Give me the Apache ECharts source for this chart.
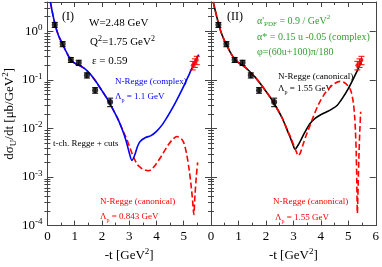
<!DOCTYPE html>
<html><head><meta charset="utf-8">
<script src="https://cdn.jsdelivr.net/npm/echarts@6/dist/echarts.min.js"></script>
<style>html,body{margin:0;padding:0;background:#fff}#c{width:382px;height:267px}</style>
</head><body><div id="c"></div>
<script>
// ---------- data ----------
const xTickValues = [0, 1, 2, 3, 4, 5, 6];
const yMinorTicks = [];
[1e-4, 1e-3, 1e-2, 1e-1, 1].forEach(d => { for (let k = 2; k <= 9; k++) { if (d * k <= 4) yMinorTicks.push(+(d * k).toPrecision(3)); } });

// measured data (black) – same in both panels
const dataT = [0.27, 0.56, 0.86, 1.15, 1.45, 1.75, 2.3];
const dataY = [1.36, 0.545, 0.258, 0.225, 0.124, 0.061, 0.035];
const dataErr = [0.16, 0.065, 0.03, 0.028, 0.015, 0.008, 0.007];
// red data at backward angles
const redT = [5.33, 5.41, 5.48];
const redY = [0.20, 0.225, 0.255];
const redErr = [0.04, 0.045, 0.05];

// Panel I: N-Regge (complex), Lambda_p = 1.1 GeV (blue)
const blueT = [0.11,0.2,0.3,0.4,0.5,0.6,0.7,0.8,0.9,1.0,1.1,1.2,1.3,1.4,1.5,1.6,1.8,2.0,2.2,2.4,2.6,2.8,2.9,3.0,3.1,3.2,3.3,3.4,3.6,3.8,4.0,4.2,4.4,4.6,4.8,5.0,5.2,5.4,5.55];
const blueY = [4.0,2.2,1.25,0.84,0.63,0.48,0.37,0.29,0.245,0.22,0.205,0.195,0.18,0.165,0.145,0.126,0.089,0.060,0.040,0.025,0.015,0.0079,0.0052,0.0032,0.0022,0.0028,0.0042,0.0054,0.0065,0.0071,0.0087,0.0117,0.0174,0.027,0.044,0.074,0.13,0.23,0.33];
// Panel I: N-Regge (canonical), Lambda_p = 0.843 GeV (red dashed)
const red1T = [0.11,0.2,0.3,0.4,0.5,0.6,0.7,0.8,0.9,1.0,1.1,1.2,1.3,1.4,1.5,1.6,1.8,2.0,2.2,2.4,2.6,2.8,2.9,3.0,3.1,3.2,3.3,3.4,3.5,3.6,3.7,3.8,3.9,4.0,4.2,4.4,4.6,4.75,4.9,5.0,5.1,5.2,5.28,5.33,5.37,5.41,5.46,5.51];
const red1Y = [4.0,2.2,1.25,0.84,0.63,0.48,0.37,0.29,0.245,0.22,0.205,0.195,0.18,0.165,0.145,0.126,0.089,0.060,0.040,0.025,0.015,0.0082,0.0062,0.0044,0.0031,0.0023,0.0018,0.0016,0.00145,0.00138,0.00135,0.0014,0.0016,0.0019,0.0028,0.0043,0.006,0.0068,0.0062,0.0051,0.0031,0.0014,0.0006,0.0003,0.00017,0.0004,0.001,0.002];
// Panel II: N-Regge (canonical), Lambda_p = 1.55 GeV (black)
const blackT = [0.08,0.2,0.3,0.4,0.5,0.6,0.7,0.8,0.9,1.0,1.1,1.2,1.3,1.4,1.5,1.6,1.8,2.0,2.2,2.4,2.6,2.8,2.9,3.0,3.05,3.1,3.2,3.3,3.4,3.6,3.8,4.0,4.2,4.4,4.6,4.8,5.0,5.2,5.4,5.5];
const blackY = [4.0,2.1,1.25,0.85,0.63,0.48,0.37,0.30,0.255,0.225,0.205,0.19,0.17,0.15,0.13,0.115,0.083,0.058,0.040,0.026,0.016,0.0085,0.0062,0.0044,0.0038,0.0039,0.0048,0.0062,0.0080,0.0125,0.0163,0.0192,0.0218,0.025,0.030,0.043,0.066,0.11,0.19,0.26];
// Panel II: N-Regge (canonical), Lambda_p = 1.55 GeV (red dashed)
const red2T = [0.08,0.2,0.3,0.4,0.5,0.6,0.7,0.8,0.9,1.0,1.1,1.2,1.3,1.4,1.5,1.6,1.8,2.0,2.2,2.4,2.6,2.8,2.9,3.0,3.1,3.18,3.25,3.35,3.45,3.55,3.7,3.9,4.1,4.3,4.5,4.7,4.85,5.0,5.1,5.18,5.23,5.26,5.29,5.31,5.33,5.36,5.39,5.42,5.45];
const red2Y = [4.0,2.1,1.25,0.85,0.63,0.48,0.37,0.30,0.255,0.225,0.205,0.19,0.17,0.15,0.13,0.115,0.083,0.058,0.040,0.026,0.016,0.0088,0.0066,0.0047,0.0034,0.00275,0.0031,0.0046,0.0068,0.0095,0.016,0.030,0.048,0.067,0.084,0.093,0.088,0.074,0.058,0.035,0.018,0.009,0.003,0.0008,0.00018,0.0007,0.003,0.009,0.022];

// ---------- helpers ----------
const FONT = 'Liberation Serif';
const AX = '#444';
const zip = (a, b) => a.map((v, i) => [v, b[i]]);
const errData = (t, y, e) => t.map((v, i) => [v, y[i], y[i] - e[i], y[i] + e[i]]);

function errRender(color) {
  return function (params, api) {
    const x = api.value(0), lo = api.value(2), hi = api.value(3);
    const a = api.coord([x, lo]), b = api.coord([x, hi]);
    const hw = 3, st = { stroke: color, lineWidth: 1 };
    return { type: 'group', children: [
      { type: 'line', shape: { x1: a[0], y1: a[1], x2: b[0], y2: b[1] }, style: st },
      { type: 'line', shape: { x1: a[0] - hw, y1: a[1], x2: a[0] + hw, y2: a[1] }, style: st },
      { type: 'line', shape: { x1: b[0] - hw, y1: b[1], x2: b[0] + hw, y2: b[1] }, style: st }
    ]};
  };
}

const supRich = {
  b: { fontFamily: FONT, fontSize: 13, color: '#000', lineHeight: 16 },
  s: { fontFamily: FONT, fontSize: 9, color: '#000', lineHeight: 16, verticalAlign: 'top' }
};

function xAxis(grid, pos, label, hideMax) {
  return {
    type: 'value', gridIndex: grid, position: pos, min: 0, max: 6, interval: 1,
    axisLine: { show: true, onZero: false, lineStyle: { color: AX, width: 1 } },
    axisTick: { show: true, inside: true, length: 5, lineStyle: { color: AX } },
    minorTick: { show: true, splitNumber: 2, length: 3, lineStyle: { color: AX } },
    splitLine: { show: false }, minorSplitLine: { show: false },
    axisLabel: { show: label, color: '#000', fontFamily: FONT, fontSize: 13, margin: 4, showMaxLabel: !hideMax,
      formatter: v => xTickValues.indexOf(v) >= 0 ? String(v) : '' },
    name: label ? '-t [GeV{s|2}]' : '', nameLocation: 'middle', nameGap: 19,
    nameTextStyle: { color: '#000', fontFamily: FONT, fontSize: 13, rich: {
      s: { fontFamily: FONT, fontSize: 9, verticalAlign: 'top', lineHeight: 16 } } }
  };
}
function yAxis(grid, pos, label, withName) {
  return {
    type: 'log', logBase: 10, gridIndex: grid, position: pos, min: 1e-4, max: 4,
    axisLine: { show: true, onZero: false, lineStyle: { color: AX, width: 1 } },
    axisTick: { show: true, inside: true, length: 6, lineStyle: { color: AX } },
    splitLine: { show: false },
    axisLabel: { show: label, showMaxLabel: false, margin: 5,
      formatter: v => '{b|10}{s|' + Math.round(Math.log10(v)) + '}', rich: supRich },
    name: withName ? 'dσ{sub|U}/dt [μb/GeV{sup|2}]' : '', nameLocation: 'middle', nameGap: 25, nameRotate: 90,
    nameTextStyle: { color: '#000', fontFamily: FONT, fontSize: 13, rich: {
      sub: { fontFamily: FONT, fontSize: 9, verticalAlign: 'bottom', lineHeight: 17 },
      sup: { fontFamily: FONT, fontSize: 9, verticalAlign: 'top', lineHeight: 17 } } }
  };
}
function yMinor(grid, pos) {
  return {
    type: 'log', logBase: 10, gridIndex: grid, position: pos, min: 1e-4, max: 4,
    axisLine: { show: false }, splitLine: { show: false }, axisLabel: { show: false },
    axisTick: { show: true, inside: true, length: 3, customValues: yMinorTicks, lineStyle: { color: AX } }
  };
}

const txt = (x, y, text, color, size, rich) => ({
  type: 'text', x: x, y: y, silent: true,
  style: { text: text, fill: color, fontFamily: FONT, fontSize: size, verticalAlign: 'middle', align: 'left',
    rich: rich || {} }
});
const subSup = (color, size) => ({
  sub: { fontFamily: FONT, fontSize: size - 3, fill: color, verticalAlign: 'bottom', lineHeight: size + 4 },
  sup: { fontFamily: FONT, fontSize: size - 3, fill: color, verticalAlign: 'top', lineHeight: size + 4 },
  n: { fontFamily: FONT, fontSize: size, fill: color, lineHeight: size + 4 }
});
const GREEN = '#33a033';

const option = {
  animation: false,
  backgroundColor: '#fff',
  grid: [
    { left: 43, right: 171, top: 2, bottom: 30 },
    { left: 211, right: 3, top: 2, bottom: 30 }
  ],
  xAxis: [
    xAxis(0, 'bottom', true, true), xAxis(0, 'top', false, false),
    xAxis(1, 'bottom', true, false), xAxis(1, 'top', false, false)
  ],
  yAxis: [
    yAxis(0, 'left', true, true), yAxis(0, 'right', false, false), yMinor(0, 'left'), yMinor(0, 'right'),
    yAxis(1, 'left', false, false), yAxis(1, 'right', false, false), yMinor(1, 'left'), yMinor(1, 'right')
  ],
  series: [
    // panel I
    { type: 'line', xAxisIndex: 0, yAxisIndex: 0, data: zip(red1T, red1Y), showSymbol: false, smooth: 0.3,
      lineStyle: { color: '#ff0000', width: 1.6, type: [6, 3] }, z: 3 },
    { type: 'line', xAxisIndex: 0, yAxisIndex: 0, data: zip(blueT, blueY), showSymbol: false, smooth: 0.3,
      lineStyle: { color: '#0000ff', width: 1.6 }, z: 4 },
    { type: 'custom', xAxisIndex: 0, yAxisIndex: 0, data: errData(dataT, dataY, dataErr), renderItem: errRender('#000'), z: 5 },
    { type: 'scatter', xAxisIndex: 0, yAxisIndex: 0, data: zip(dataT, dataY), symbol: 'circle', symbolSize: 6,
      itemStyle: { color: '#000' }, z: 6 },
    { type: 'custom', xAxisIndex: 0, yAxisIndex: 0, data: errData(redT, redY, redErr), renderItem: errRender('#ff0000'), z: 5 },
    { type: 'scatter', xAxisIndex: 0, yAxisIndex: 0, data: zip(redT, redY), symbol: 'circle', symbolSize: 4,
      itemStyle: { color: '#ff0000' }, z: 6 },
    // panel II
    { type: 'line', xAxisIndex: 2, yAxisIndex: 4, data: zip(blackT, blackY), showSymbol: false, smooth: 0.3,
      lineStyle: { color: '#000', width: 1.6 }, z: 3 },
    { type: 'line', xAxisIndex: 2, yAxisIndex: 4, data: zip(red2T, red2Y), showSymbol: false, smooth: 0.3,
      lineStyle: { color: '#ff0000', width: 1.6, type: [6, 3] }, z: 4 },
    { type: 'custom', xAxisIndex: 2, yAxisIndex: 4, data: errData(dataT, dataY, dataErr), renderItem: errRender('#000'), z: 5 },
    { type: 'scatter', xAxisIndex: 2, yAxisIndex: 4, data: zip(dataT, dataY), symbol: 'circle', symbolSize: 6,
      itemStyle: { color: '#000' }, z: 6 },
    { type: 'custom', xAxisIndex: 2, yAxisIndex: 4, data: errData(redT, redY, redErr), renderItem: errRender('#ff0000'), z: 5 },
    { type: 'scatter', xAxisIndex: 2, yAxisIndex: 4, data: zip(redT, redY), symbol: 'circle', symbolSize: 4,
      itemStyle: { color: '#ff0000' }, z: 6 }
  ],
  graphic: [
    txt(62, 17, '(I)', '#000', 12),
    txt(89, 23, 'W=2.48 GeV', '#000', 11),
    txt(90, 42, '{n|Q}{sup|2}{n|=1.75 GeV}{sup|2}', '#000', 11, subSup('#000', 11)),
    txt(92, 61, 'ε = 0.59', '#000', 11),
    txt(115, 82, 'N-Regge (complex)', '#0000ff', 9),
    txt(115, 97, '{n|Λ}{sub|p}{n| = 1.1 GeV}', '#0000ff', 9, subSup('#0000ff', 9)),
    txt(53, 144, 't-ch. Regge + cuts', '#000', 9),
    txt(100, 202, 'N-Regge (canonical)', '#ff0000', 9),
    txt(100, 217, '{n|Λ}{sub|p}{n| = 0.843 GeV}', '#ff0000', 9, subSup('#ff0000', 9)),
    txt(227, 17, '(II)', '#000', 12),
    txt(257, 21, "{n|α'}{sub|PDF}{n| = 0.9 / GeV}{sup|2}", GREEN, 10, subSup(GREEN, 10)),
    txt(257, 37, 'α* = 0.15 u -0.05 (complex)', GREEN, 10),
    txt(257, 52, 'φ=(60u+100)π/180', GREEN, 10),
    txt(278, 77, 'N-Regge (canonical)', '#000', 9),
    txt(278, 89, '{n|Λ}{sub|p}{n| = 1.55 GeV}', '#000', 9, subSup('#000', 9)),
    txt(273, 202, 'N-Regge (canonical)', '#ff0000', 9),
    txt(275, 218, '{n|Λ}{sub|p}{n| = 1.55 GeV}', '#ff0000', 9, subSup('#ff0000', 9))
  ]
};
const chart = echarts.init(document.getElementById('c'), null, { renderer: 'canvas' });
chart.setOption(option);
</script></body></html>
